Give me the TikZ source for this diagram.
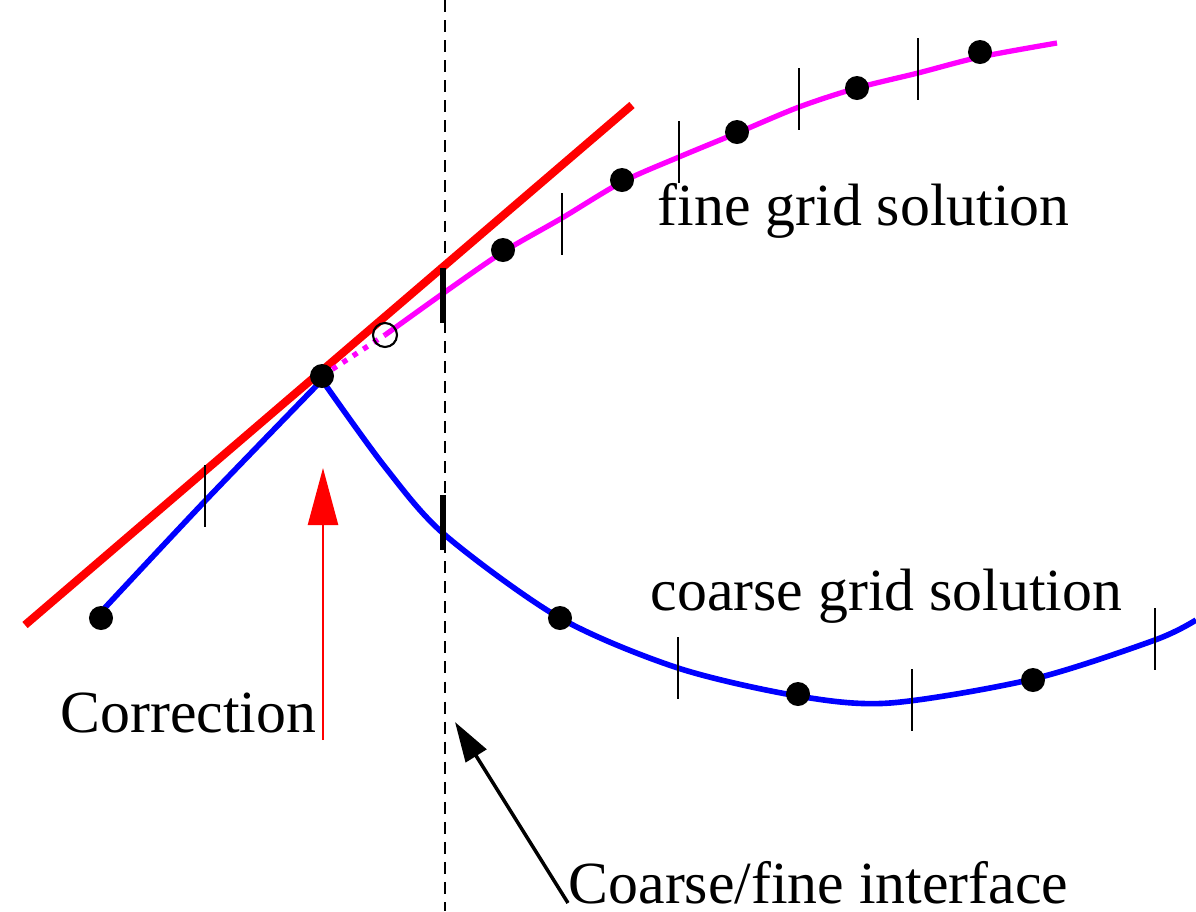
\documentclass[tikz,border=0pt]{standalone}
\usepackage{fontspec}
\setmainfont{Liberation Serif}
\usetikzlibrary{arrows.meta}
\definecolor{finecol}{RGB}{255,0,255}
\definecolor{coarsecol}{RGB}{0,0,255}
\definecolor{corrcol}{RGB}{255,0,0}

\begin{document}
\begin{tikzpicture}[x=0.01cm,y=-0.01cm,>=Triangle,font=\fontsize{17}{20}\selectfont]
\tikzstyle{dot}=[circle,fill=black,inner sep=0pt,minimum size=0.24cm]
\tikzstyle{tick}=[black,line width=0.6pt]
\tikzstyle{thtick}=[black,line width=1.8pt]
\tikzstyle{lbl}=[anchor=base west,inner sep=0pt]
\useasboundingbox (0,0) rectangle (1196,911);
% coarse/fine interface
\draw[line width=0.6pt,dash pattern=on 3.4pt off 2.3pt] (445,0) -- (445,911);
% tangent used for the correction
\draw[corrcol,line width=2.3pt] (25,625) -- (632,105);
% fine grid solution
\draw[finecol,line width=1.5pt,dotted] (322,376) -- (385,335);
\draw[finecol,line width=1.5pt] plot[smooth] coordinates {(385,335) (445,292) (503,252) (562,218) (622,182) (679,157) (737,133) (799,107) (857,88) (918,73) (980,57) (1057,43)};
% coarse grid solution
\draw[coarsecol,line width=1.6pt] plot[smooth] coordinates {(101,612) (205,501) (322,380)};
\draw[coarsecol,line width=1.6pt] plot[smooth] coordinates {(322,380) (385,467) (445,535) (560,618) (678,668) (798,696) (890,703) (1033,679) (1155,640) (1196,620)};
% cell faces
\foreach \x/\y in {562/224,679/152,799/99,918/69} \draw[tick] (\x,\y-31) -- (\x,\y+31);
\foreach \x/\y in {205/496,678/668,912/700,1155/639} \draw[tick] (\x,\y-31) -- (\x,\y+31);
\draw[thtick] (443,268) -- (443,323);
\draw[thtick] (443,495) -- (443,550);
% cell centres
\foreach \x/\y [count=\i] in {503/250,622/180,737/132,857/88,980/52} \node[dot] (f\i) at (\x,\y) {};
\foreach \x/\y [count=\i] in {101/618,322/376,560/618,798/694,1033/680} \node[dot] (c\i) at (\x,\y) {};
\node[circle,draw,line width=0.6pt,inner sep=0pt,minimum size=0.24cm] (ghost) at (385,335) {};
% labels
\node[lbl] (fine) at (657,225) {fine grid solution};
\node[lbl] (coarse) at (650,610) {coarse grid solution};
\node[lbl] (corr) at (60,732) {Correction};
\node[lbl] (iface) at (568,903) {Coarse/fine interface};
\coordinate (cbot) at (323,740);
\coordinate (ctop) at (323,468);
\coordinate (ifpt) at (455,722);
\draw[corrcol,line width=0.7pt,-{Triangle[length=0.57cm,width=0.3cm]}] (cbot) -- (ctop);
\draw[line width=1pt,-{Triangle[length=0.4cm,width=0.24cm]}] (iface.base west) -- (ifpt);
\end{tikzpicture}
\end{document}
